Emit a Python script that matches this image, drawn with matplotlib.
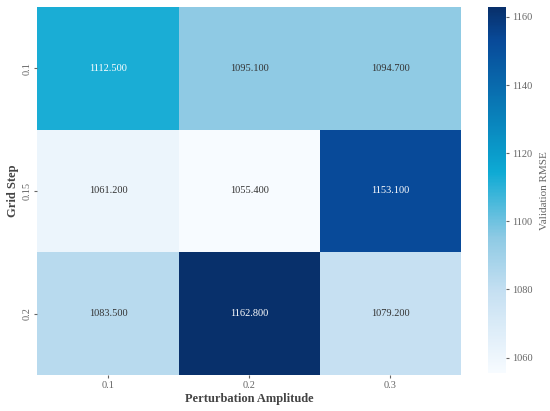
import numpy as np
import matplotlib
matplotlib.use("Agg")
import matplotlib.pyplot as plt
import seaborn as sns
from matplotlib.colors import LinearSegmentedColormap

grid_step = ["0.1", "0.15", "0.2"]
amplitude = ["0.1", "0.2", "0.3"]
rmse = np.array([
    [1112.5, 1095.1, 1094.7],
    [1061.2, 1055.4, 1153.1],
    [1083.5, 1162.8, 1079.2],
])

plt.rcParams['font.family'] = ['Liberation Serif', 'DejaVu Serif']

cmap = LinearSegmentedColormap.from_list("rmse", [
    (0.0, "#f7fbff"),
    (0.22, "#c6e0f2"),
    (0.37, "#8ecae4"),
    (0.55, "#0eaad4"),
    (0.60, "#0a9ccb"),
    (0.91, "#084a99"),
    (1.0, "#08306b"),
])

fig = plt.figure(figsize=(5.5, 4.11), dpi=100)
ax = fig.add_axes([0.068, 0.088, 0.77, 0.895])
cax = fig.add_axes([0.887, 0.092, 0.033, 0.89])

sns.heatmap(rmse, ax=ax, cbar_ax=cax, cmap=cmap, annot=True, fmt=".3f",
            xticklabels=amplitude, yticklabels=grid_step,
            annot_kws={"fontsize": 7.5},
            cbar_kws={"label": "Validation RMSE"})

for t in ax.texts:
    if t.get_text() in ("1112.500", "1153.100", "1162.800"):
        t.set_color("white")
    else:
        t.set_color("#333333")

ax.set_xlabel("Perturbation Amplitude", fontsize=9, fontweight="bold",
              color="#444444", labelpad=2)
ax.set_ylabel("Grid Step", fontsize=9, fontweight="bold",
              color="#444444", labelpad=2)
ax.tick_params(axis="both", labelsize=7.5, colors="#666666", length=2.5, pad=2)
ax.tick_params(axis="y", labelrotation=90)
for lab in ax.get_yticklabels():
    lab.set_va("center")

cax.tick_params(labelsize=7.5, colors="#666666", length=2.5, pad=2)
cax.set_ylabel("Validation RMSE", fontsize=8, color="#666666", labelpad=5)
cax.set_yticks([1060, 1080, 1100, 1120, 1140, 1160])

fig.savefig("out.png", dpi=100)
